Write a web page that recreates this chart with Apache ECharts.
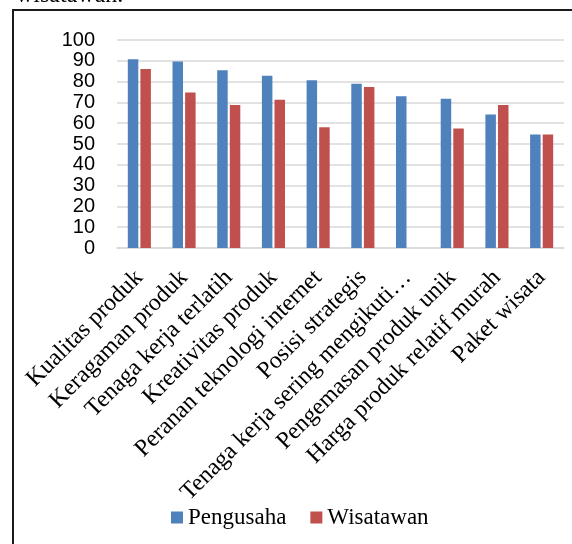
<!DOCTYPE html>
<html>
<head>
<meta charset="utf-8">
<script src="https://cdn.jsdelivr.net/npm/echarts@6/dist/echarts.min.js"></script>
<style>
  html, body { margin: 0; padding: 0; background: #fff; }
  #main { width: 572px; height: 544px; }
</style>
</head>
<body>
<div id="main"></div>
<script>
const categories = [
    'Kualitas produk',
    'Keragaman produk',
    'Tenaga kerja terlatih',
    'Kreativitas produk',
    'Peranan teknologi internet',
    'Posisi strategis',
    'Tenaga kerja sering mengikuti\u2026',
    'Pengemasan produk unik',
    'Harga produk relatif murah',
    'Paket wisata'
];
const pengusaha = [90.7, 89.7, 85.4, 82.8, 80.7, 79, 72.9, 71.7, 64.2, 54.6];
const wisatawan = [86, 74.8, 68.7, 71.3, 58, 77.4, null, 57.5, 68.7, 54.6];
const seriesNames = ['Pengusaha', 'Wisatawan'];

const serif = '"Liberation Serif", "Times New Roman", serif';
const sans = '"Liberation Sans", Arial, sans-serif';

var myChart = echarts.init(document.getElementById('main'));

const option = {
    animation: false,
    color: ['#4f81bd', '#c0504d'],
    grid: {
        left: 117,
        right: 8,
        top: 40,
        bottom: 296
    },
    legend: {
        data: seriesNames,
        left: 166,
        top: 501,
        icon: 'rect',
        itemWidth: 12,
        itemHeight: 12,
        itemGap: 24,
        textStyle: {
            fontFamily: serif,
            fontSize: 23,
            color: '#000'
        }
    },
    xAxis: {
        type: 'category',
        data: categories,
        axisLine: { lineStyle: { color: '#d9d9d9', width: 1.5 } },
        axisTick: { show: false },
        axisLabel: {
            interval: 0,
            rotate: 45,
            margin: 26,
            fontFamily: serif,
            fontSize: 24,
            color: '#000'
        }
    },
    yAxis: {
        type: 'value',
        min: 0,
        max: 100,
        interval: 10,
        axisLine: { show: false },
        axisTick: { show: false },
        splitLine: { lineStyle: { color: '#d9d9d9', width: 1.5 } },
        axisLabel: {
            margin: 22,
            showMinLabel: true,
            showMaxLabel: true,
            fontFamily: sans,
            fontSize: 20,
            color: '#000'
        }
    },
    graphic: [
        {
            type: 'text',
            left: 16,
            top: -16,
            style: {
                text: 'wisatawan.',
                font: '24px ' + serif,
                fill: '#000'
            }
        },
        {
            type: 'polyline',
            shape: { points: [[13, 544], [13, 10], [572, 10]] },
            style: { stroke: '#1a1a1a', lineWidth: 2, fill: null }
        }
    ],
    series: [
        {
            name: seriesNames[0],
            type: 'bar',
            barWidth: 10.5,
            barGap: '20%',
            data: pengusaha
        },
        {
            name: seriesNames[1],
            type: 'bar',
            barWidth: 10.5,
            barGap: '20%',
            data: wisatawan
        }
    ]
};
myChart.setOption(option);
</script>
</body>
</html>
